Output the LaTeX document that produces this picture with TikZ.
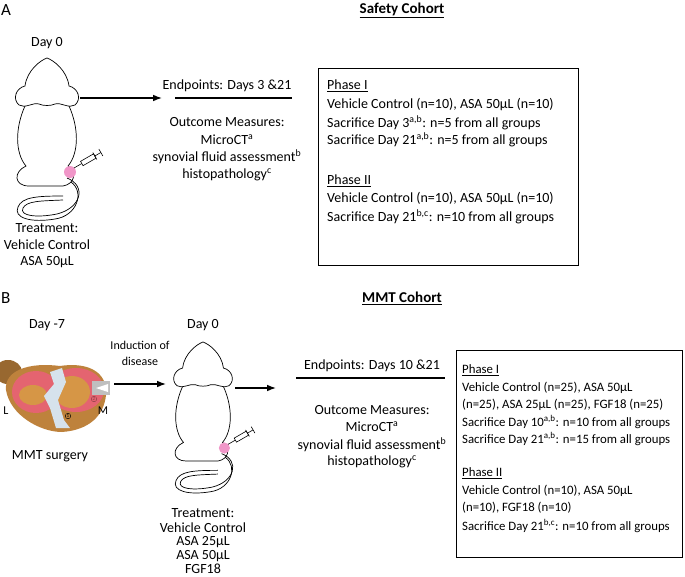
\documentclass[tikz,border=0pt]{standalone}
\usepackage{fontspec}
\setmainfont{Carlito}
\usetikzlibrary{arrows.meta}
\tikzset{>=Latex}
\definecolor{dotpink}{RGB}{240,150,200}
\definecolor{kbrown}{RGB}{190,130,60}
\definecolor{kpink}{RGB}{228,100,112}
\definecolor{korange}{RGB}{214,150,70}
\definecolor{kwhite}{RGB}{214,226,236}
\tikzset{
  txt/.style={font=\fontsize{14}{16}\selectfont, inner sep=0pt},
  ltxt/.style={txt, anchor=west},
  btxt/.style={font=\fontsize{12.8}{15}\selectfont, inner sep=0pt, anchor=west},
  stxt/.style={font=\fontsize{12}{14}\selectfont, inner sep=0pt},
  head/.style={font=\fontsize{15}{17}\selectfont\bfseries, inner sep=0pt},
  panel/.style={font=\fontsize{17}{19}\selectfont, inner sep=0pt, anchor=west},
  flow/.style={->, line width=1.3pt},
  rat/.pic={
    \draw[line width=.7pt, fill=white](0,0)..controls(-6,2)and(-20,12)..(-22,28)
      ..controls(-31,30)and(-35,41)..(-28,47)
      ..controls(-22,51)and(-14,44)..(-8,46)..controls(-4,48)and(4,48)..(8,46)
      ..controls(14,44)and(22,51)..(28,47)..controls(35,41)and(31,30)..(22,28)
      ..controls(20,12)and(6,2)..(0,0);
    \draw[line width=.7pt](-22,48)..controls(-32,70)and(-32,95)..(-21,108)
      ..controls(-34,114)and(-33,128)..(-18,128)--(16,128)
      ..controls(28,126)and(30,114)..(21,108)
      ..controls(32,95)and(32,70)..(22,48);
    \draw[line width=.7pt](20,120)..controls(40,128)and(34,150)..(10,156)
      ..controls(-10,160)and(-28,158)..(-24,150)..controls(-20,143)and(-8,143)..(16,142);
    \draw[line width=.7pt](24,124)..controls(38,134)and(30,158)..(8,161)
      ..controls(-16,165)and(-34,160)..(-29,149)..controls(-25,139)and(-10,138)..(16,138);
    \fill[dotpink](23,114)circle(6);
    \begin{scope}[shift={(27,110)}, rotate=30, line width=.6pt]
      \draw(0,0)--(9,0);
      \draw[fill=white](9,-2.5)rectangle(24,2.5);
      \draw(24,-4)--(24,4);
      \draw(24,0)--(31,0);
      \draw(31,-4)--(31,4);
    \end{scope}
  }
}
\begin{document}
\begin{tikzpicture}[x=1pt, y=-1pt]
  \useasboundingbox (0,0) rectangle (685,576);
  % panel A
  \node[panel] (lblA) at (1,10) {A};
  \node[head] (safety) at (402,10) {\underline{Safety Cohort}};
  \node[txt] (dayA) at (47,43) {Day 0};
  \pic at (47,58) {rat};
  \coordinate (ratA) at (80,98);
  \node[txt] (endA) at (227,86) {Endpoints: Days 3 \&21};
  \coordinate (lineAl) at (175,98);
  \coordinate (lineAr) at (292,98);
  \draw[flow] (ratA) -- (162,98);
  \draw[line width=1.3pt] (lineAl) -- (lineAr);
  \node[txt] (outA) at (227,122) {Outcome Measures:};
  \node[txt] (ctA) at (227,140) {MicroCT\textsuperscript{a}};
  \node[txt] (sfA) at (227,157) {synovial fluid assessment\textsuperscript{b}};
  \node[txt] (hpA) at (227,175) {histopathology\textsuperscript{c}};
  \node[txt] (trA) at (47,228) {Treatment:};
  \node[txt] (vcA) at (47,245) {Vehicle Control};
  \node[txt] (asaA) at (47,262) {ASA 50μL};
  \draw[line width=.8pt] (318,68) rectangle (578,265);
  \node[ltxt] (p1A) at (327,86) {\underline{Phase I}};
  \node[ltxt] at (327,105) {Vehicle Control (n=10), ASA 50μL (n=10)};
  \node[ltxt] at (327,123) {Sacrifice Day 3\textsuperscript{a,b}: n=5 from all groups};
  \node[ltxt] at (327,140) {Sacrifice Day 21\textsuperscript{a,b}: n=5 from all groups};
  \node[ltxt] (p2A) at (327,181) {\underline{Phase II}};
  \node[ltxt] at (327,199) {Vehicle Control (n=10), ASA 50μL (n=10)};
  \node[ltxt] at (327,217) {Sacrifice Day 21\textsuperscript{b,c}: n=10 from all groups};
  % panel B
  \node[panel] (lblB) at (1,298) {B};
  \node[head] (mmt) at (402,298) {\underline{MMT Cohort}};
  \node[txt] (dayM7) at (47,325) {Day -7};
  \node[txt] (dayB) at (203,325) {Day 0};
  % knee
  \fill[kbrown!80!black] (8,372) ellipse (14 and 12);
  \fill[kbrown] (6,390)..controls(4,370)and(30,362)..(60,366)..controls(85,362)and(108,370)..(106,395)
    ..controls(104,415)and(90,430)..(62,432)..controls(40,432)and(10,415)..(6,390);
  \fill[kpink] (36,392) ellipse (24 and 21);
  \fill[korange] (33,395) ellipse (14 and 10);
  \fill[kpink] (76,390) ellipse (28 and 22);
  \fill[korange] (72,392) ellipse (18 and 16);
  \fill[kwhite] (50,372)--(62,368)--(66,382)--(58,400)--(64,420)--(70,428)--(56,428)--(50,408)--(44,396)--(54,384)--cycle;
  \fill[gray!50] (92,381) rectangle (110,395);
  \fill[white] (96,388)--(108,384)--(108,392)--cycle;
  \node[draw, circle, inner sep=.5pt, font=\tiny] (n1) at (68,416) {1};
  \node[draw=kpink!60!black, circle, inner sep=.5pt, font=\tiny, text=kpink!60!black] (n2) at (94,399) {2};
  \node[stxt] (kL) at (6,411) {L};
  \node[stxt] (kM) at (103,411) {M};
  \node[txt] (surg) at (50,456) {MMT surgery};
  \node[stxt] (ind1) at (140,345) {Induction of};
  \node[stxt] (ind2) at (140,361) {disease};
  \coordinate (knee) at (114,384);
  \draw[flow] (knee) -- (166,384);
  \pic[scale=.93] at (203,342) {rat};
  \coordinate (ratB) at (235,388);
  \draw[flow] (ratB) -- (276,388);
  \node[txt] (endB) at (372,366) {Endpoints: Days 10 \&21};
  \coordinate (lineBl) at (296,378);
  \coordinate (lineBr) at (445,378);
  \draw[line width=1.3pt] (lineBl) -- (lineBr);
  \node[txt] (outB) at (372,410) {Outcome Measures:};
  \node[txt] (ctB) at (372,427) {MicroCT\textsuperscript{a}};
  \node[txt] (sfB) at (372,445) {synovial fluid assessment\textsuperscript{b}};
  \node[txt] (hpB) at (372,462) {histopathology\textsuperscript{c}};
  \node[txt] (trB) at (203,513) {Treatment:};
  \node[txt] (vcB) at (203,528) {Vehicle Control};
  \node[txt] (a25B) at (203,542) {ASA 25μL};
  \node[txt] (a50B) at (203,556) {ASA 50μL};
  \node[txt] (fgfB) at (203,569) {FGF18};
  \draw[line width=.8pt] (456,350) rectangle (682,557);
  \node[btxt] (p1B) at (462,370) {\underline{Phase I}};
  \node[btxt] at (462,388) {Vehicle Control (n=25), ASA 50μL};
  \node[btxt] at (462,405) {(n=25), ASA 25μL (n=25), FGF18 (n=25)};
  \node[btxt] at (462,422) {Sacrifice Day 10\textsuperscript{a,b}: n=10 from all groups};
  \node[btxt] at (462,439) {Sacrifice Day 21\textsuperscript{a,b}: n=15 from all groups};
  \node[btxt] (p2B) at (462,473) {\underline{Phase II}};
  \node[btxt] at (462,491) {Vehicle Control (n=10), ASA 50μL};
  \node[btxt] at (462,508) {(n=10), FGF18 (n=10)};
  \node[btxt] at (462,526) {Sacrifice Day 21\textsuperscript{b,c}: n=10 from all groups};
\end{tikzpicture}
\end{document}
